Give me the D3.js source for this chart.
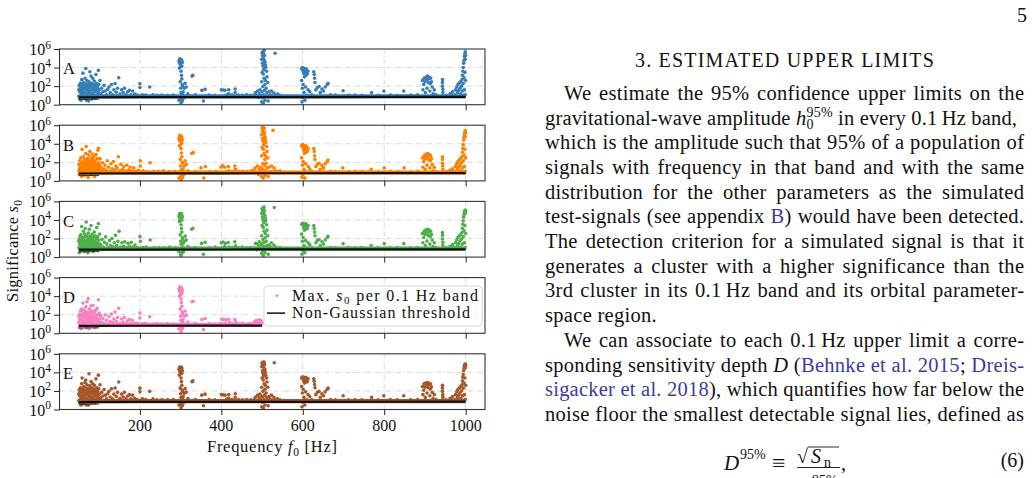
<!DOCTYPE html>
<html>
<head>
<meta charset="utf-8">
<script src="https://cdn.jsdelivr.net/npm/d3@7"></script>
<style>
  html, body { margin: 0; padding: 0; background: #fff; }
  svg { display: block; font-family: "Liberation Serif", "Times New Roman", serif; }
</style>
</head>
<body>
<svg id="page" width="1034" height="478"></svg>
<script>
// Five stacked panels : max significance s0 per 0.1 Hz band vs frequency (log y)
const panelNames = ["A", "B", "C", "D", "E"];
const colors = ["#377eb8", "#ff7f00", "#4daf4a", "#f781bf", "#a65628"];
const bandMax = [1000, 1000, 1000, 500, 1000];   // upper end of each search range [Hz]
const xTicks = [200, 400, 600, 800, 1000];
const yTicks = [1, 1e2, 1e4, 1e6];
const yTickExp = ["0", "2", "4", "6"];

// Non-Gaussian threshold (thick) + low-frequency branch (thin)
const thresholdFreq = [50, 200, 400, 500, 600, 800, 1000];
const thresholdS0   = [6.3, 6.5, 6.6, 6.65, 6.7, 6.8, 6.9];
const lowThreshFreq = [50, 100];
const lowThreshS0   = [3.7, 3.9];
// per-band maxima piling up just above the threshold
const floorS0 = 8;

// [frequency Hz, s0]
const ptsA = [
  [50,8],[50,40],[51,120],[52,4],[52,25],[53,60],[54,200],[54,10],[55,3],[55,30],[56,90],[57,15],[57,500],[58,7],[59,150],[59,35],
  [60,2500],[61,60],[62,18],[62,250],[63,5],[64,100],[65,700],[65,22],[66,8],[67,8000],[67,45],[68,180],[69,3],[69,55],[70,400],[70,14],
  [71,90],[72,6],[72,35],[73,150],[74,2.5],[74,60],[75,300],[75,20],[76,9],[77,3500],[77,120],[78,28],[79,70],[80,1200],[80,12],[81,200],
  [82,4],[82,50],[83,90],[84,700],[84,18],[85,6],[86,150],[86,40],[87,10],[88,350],[89,70],[90,25],[90,5],[91,110],[92,1800],[92,40],
  [93,12],[94,200],[95,50],[96,7],[96,80],[97,25],[98,5000],[99,150],[99,14],[100,40],[101,9],[102,400],
  [104,15],[106,60],[109,25],[112,120],[115,30],[118,12],[121,45],[124,80],[127,20],[130,150],[133,12],[136,40],[139,190],[142,22],
  [145,60],[148,800],[151,14],[155,40],[159,20],[162,60],[166,12],[170,25],[174,35],[178,12],[182,30],[187,14],[193,11],[200,180],
  [200,70],[206,12],[214,11],[224,80],[232,12],[242,10],[254,11],[268,10],[282,11],
  [296,3],[296,40000],[297,60000],[297,9000],[298,90000],[298,25000],[299,45000],[299,300],[300,80000],[300,30000],[300,12000],[300,60],
  [300,4],[301,55000],[301,4000],[301,20],[301,1.5],[302,70000],[302,1500],[302,9],[303,50000],[303,15000],[303,600],[304,35000],
  [304,150],[304,2.5],[305,100],[305,14],[306,25],[307,5],[309,60],[311,200],[314,80],[318,15],[328,1200],[330,1500],[336,12],[352,35],
  [356,2.5],[360,45],[370,11],[384,10],
  [400,40],[404,38],[409,35],[413,12],[418,40],[418,15],[426,12],[434,50],[434,20],[442,11],[452,10],[462,12],[472,10],
  [481,12],[484,20],[487,9],[489,30],[491,6],[493,15],[495,40],[497,10],[499,2],[499,300],[499,8e4],[500,4e5],[500,25],[500,3000],
  [501,2e5],[501,6],[501,3e4],[502,5e5],[502,90],[502,1.5e4],[503,1e5],[503,1.5],[503,2e3],[504,3e5],[504,12],[504,6e3],[505,6e4],
  [505,700],[505,7e5],[506,2e5],[506,35],[506,9e3],[507,4e4],[507,150],[507,3],[508,2e4],[508,400],[509,1e4],[509,8],[510,60],
  [511,4e3],[512,1e3],[512,20],[514,250],[515,2.5],[517,25],[520,12],[523,30],[526,8],[529,18],[533,10],[538,14],[544,10],[532,3.5e5],
  [597,8000],[597,400],[598,2],[599,1e4],[599,60],[600,5000],[600,6],[601,9000],[601,150],[602,2500],[603,7000],[603,20],[604,1000],
  [605,5000],[605,3],[606,3000],[607,8000],[607,80],[608,1500],[609,6000],[610,10],[611,2000],[613,4000],[613,40],[617,25],[622,12],
  [627,3500],[628,1800],[629,700],[630,250],[632,40],[636,70],[640,90],[643,20],[647,50],[651,30],[655,80],[660,150],[662,200],
  [668,12],[680,11],
  [699,32],[712,10],[728,11],[745,10],[769,20],[785,10],[799,30],[815,11],[832,10],[848,30],[865,11],[882,12],
  [894,400],[895,40],[897,150],[898,700],[900,300],[901,20],[902,900],[904,500],[905,60],[906,1200],[908,250],[909,600],[911,900],
  [912,30],[913,180],[914,700],[916,300],[918,80],[920,15],[923,40],[927,12],
  [943,500],[943,250],[943,100],[944,45],[944,20],[952,10],[962,16],[965,12],[968,25],
  [973,12],[975,40],[978,80],[980,20],[981,150],[983,35],[984,200],[986,60],[987,300],[988,15],[990,100],[991,500],[992,1500],
  [992,30],[993,4000],[994,1e4],[994,200],[995,3e4],[995,10],[996,6e4],[996,800],[997,1.5e5],[997,40],[998,3e5],[998,3000],
  [999,5e5],[999,8e4],[999,12],[1000,2e5],[1000,400]
];

const ptsB = [
  [50,12],[50,60],[51,5],[52,150],[52,20],[53,40],[54,8],[55,300],[55,15],[56,70],[57,3],[57,25],[58,2500],[59,110],[59,10],[60,45],
  [61,6],[61,400],[62,30],[63,80],[64,12],[64,200],[65,4],[66,55],[66,18],[67,900],[68,5000],[68,35],[69,120],[70,9],[70,60],[71,250],
  [72,20],[73,2.5],[73,90],[74,600],[75,14],[75,40],[76,150],[77,7],[77,1500],[78,70],[79,25],[80,300],[80,5],[81,45],[82,120],[83,15],
  [83,800],[84,35],[85,200],[86,10],[86,60],[87,400],[88,22],[89,3],[89,90],[90,150],[91,30],[92,12],[92,700],[93,50],[94,8],[95,250],
  [95,20],[96,60],[97,2000],[97,12],[98,3200],[98,35],[99,100],[100,18],[101,50],[102,250],
  [104,30],[106,12],[108,90],[111,20],[114,50],[117,14],[120,150],[123,30],[126,11],[129,70],[132,20],[135,120],[138,15],[141,40],
  [144,25],[147,400],[150,12],[153,60],[157,18],[160,35],[164,12],[168,50],[172,15],[176,30],[180,12],[185,25],[190,11],[196,14],
  [201,150],[201,40],[207,12],[215,10],[225,90],[234,11],[245,10],[258,12],[272,10],[286,11],
  [296,2],[296,30000],[297,50000],[297,6000],[298,80000],[298,20000],[299,60000],[299,200],[300,70000],[300,25000],[300,8000],[300,40],
  [300,3],[301,45000],[301,3000],[301,15],[301,1.3],[302,60000],[302,1000],[302,7],[303,40000],[303,12000],[303,400],[304,25000],
  [304,100],[304,2],[305,80],[305,12],[306,20],[307,4],[309,40],[311,150],[314,60],[318,12],[327,900],[331,1100],[337,10],[350,25],
  [357,2],[361,35],[372,10],[386,11],
  [399,30],[403,45],[408,30],[413,11],[417,35],[419,12],[427,10],[433,40],[435,18],[443,10],[453,11],[463,10],[473,12],
  [480,15],[483,25],[486,8],[489,40],[491,5],[493,20],[495,12],[497,30],[499,3],[499,500],[499,1e5],[500,5e5],[500,20],[500,4000],
  [501,2.5e5],[501,8],[501,4e4],[502,6e5],[502,70],[502,2e4],[503,1.5e5],[503,2],[503,2500],[504,3.5e5],[504,15],[504,8e3],[505,8e4],
  [505,900],[505,5e5],[506,1.5e5],[506,45],[506,1.2e4],[507,5e4],[507,200],[507,4],[508,3e4],[508,500],[509,1.5e4],[509,10],[510,80],
  [511,5e3],[512,1500],[512,25],[514,300],[515,3],[517,30],[520,10],[523,40],[526,9],[529,25],[533,12],[538,10],[544,12],[527,2.8e5],
  [597,6000],[597,300],[598,2.5],[599,8000],[599,50],[600,4000],[600,5],[601,7000],[601,120],[602,2000],[603,5500],[603,18],[604,900],
  [605,4000],[605,2],[606,2500],[607,6000],[607,70],[608,1200],[609,5000],[610,9],[611,1500],[613,3000],[613,35],[617,20],[622,10],
  [627,3000],[628,1500],[629,500],[630,200],[632,35],[636,60],[640,80],[643,18],[647,45],[651,25],[655,70],[660,120],[662,180],
  [668,11],[680,10],
  [698,25],[713,10],[729,11],[746,10],[768,18],[786,10],[800,25],[816,11],[833,10],[849,25],[866,10],[883,11],
  [894,300],[895,30],[897,120],[898,500],[900,250],[901,18],[902,700],[904,400],[905,50],[906,900],[908,200],[909,450],[911,700],
  [912,25],[913,150],[914,550],[916,250],[918,60],[920,12],[923,30],[927,10],
  [943,400],[943,200],[943,80],[944,40],[944,18],[953,10],[961,14],[965,11],[968,20],
  [973,10],[975,35],[978,70],[980,18],[981,120],[983,30],[984,180],[986,50],[987,250],[988,12],[990,90],[991,400],[992,1200],
  [992,25],[993,3000],[994,8000],[994,150],[995,2.5e4],[995,9],[996,5e4],[996,600],[997,1e5],[997,35],[998,2e5],[998,2500],
  [999,2.5e5],[999,6e4],[999,10],[1000,1.5e5],[1000,300]
];

const ptsC = [
  [50,10],[50,50],[51,3],[51,90],[52,25],[53,180],[53,8],[54,40],[55,15],[55,250],[56,5],[57,70],[57,2000],[58,20],[59,130],[60,8],
  [60,45],[61,600],[62,12],[62,90],[63,30],[64,300],[64,4],[65,55],[66,20],[66,1200],[67,150],[68,9],[68,6000],[69,40],[70,200],
  [70,14],[71,70],[72,3],[72,30],[73,400],[74,18],[74,100],[75,6],[76,50],[76,1000],[77,25],[78,180],[78,9],[79,60],[80,2500],
  [80,20],[81,120],[82,7],[82,40],[83,300],[84,15],[85,80],[85,4],[86,30],[87,150],[88,12],[88,500],[89,50],[90,20],[91,8],[91,200],
  [92,35],[93,90],[94,14],[94,1500],[95,40],[96,150],[97,6],[97,25],[98,4000],[99,70],[100,12],[101,300],[102,25],
  [104,20],[107,80],[110,12],[113,40],[116,150],[119,25],[122,10],[125,60],[128,18],[131,100],[134,14],[137,35],[140,220],[143,18],
  [146,50],[149,600],[152,12],[156,35],[160,15],[163,45],[167,11],[171,30],[175,14],[179,40],[183,12],[188,20],[194,10],[200,160],
  [201,50],[208,11],[216,12],[225,70],[235,10],[247,11],[260,10],[273,12],[287,10],
  [296,4],[296,25000],[297,40000],[297,7000],[298,50000],[298,15000],[299,35000],[299,250],[300,45000],[300,20000],[300,9000],[300,50],
  [300,2],[301,40000],[301,3000],[301,25],[301,1.5],[302,50000],[302,1200],[302,8],[303,30000],[303,10000],[303,500],[304,20000],
  [304,120],[304,3],[305,90],[305,12],[306,30],[307,4],[309,50],[311,180],[314,70],[318,14],[327,1000],[330,1300],[336,11],[351,30],
  [356,2],[360,40],[371,10],[385,12],
  [400,35],[404,42],[408,14],[410,30],[417,38],[419,12],[426,11],[433,45],[435,16],[443,10],[451,12],[462,10],[471,11],
  [481,10],[484,30],[487,6],[489,25],[491,12],[493,45],[495,8],[497,20],[499,2.5],[499,200],[499,5e4],[500,1.5e5],[500,30],[500,2500],
  [501,1e5],[501,5],[501,2e4],[502,2e5],[502,80],[502,1e4],[503,7e4],[503,1.5],[503,1500],[504,1.5e5],[504,14],[504,5e3],[505,4e4],
  [505,600],[505,2.5e5],[506,1e5],[506,40],[506,7e3],[507,3e4],[507,120],[507,3],[508,1.5e4],[508,350],[509,8e3],[509,9],[510,50],
  [511,3e3],[512,800],[512,18],[514,200],[515,2],[517,20],[520,14],[523,35],[526,8],[529,20],[533,12],[538,10],[544,11],[530,2.2e5],
  [597,3500],[597,300],[598,2],[599,4000],[599,50],[600,3000],[600,5],[601,4500],[601,130],[602,1500],[603,3500],[603,18],[604,800],
  [605,2500],[605,3],[606,2000],[607,4000],[607,60],[608,1000],[609,3000],[610,10],[611,1200],[613,2500],[613,35],[617,22],[622,11],
  [627,2500],[628,1200],[629,500],[630,200],[632,35],[636,60],[640,80],[643,18],[647,45],[651,25],[655,70],[660,130],[662,170],
  [668,11],[680,10],
  [699,28],[712,11],[728,10],[744,11],[768,18],[784,10],[800,28],[814,10],[832,11],[848,28],[864,10],[881,11],
  [894,350],[895,35],[897,130],[898,600],[900,280],[901,18],[902,800],[904,450],[905,55],[906,1000],[908,220],[909,500],[911,800],
  [912,25],[913,160],[914,600],[916,280],[918,70],[920,14],[923,35],[927,11],
  [943,450],[943,220],[943,90],[944,40],[944,18],[952,11],[962,15],[965,11],[968,22],
  [973,11],[975,38],[978,75],[980,18],[981,130],[983,30],[984,190],[986,55],[987,260],[988,12],[990,90],[991,450],[992,1300],
  [992,25],[993,3500],[994,8000],[994,160],[995,2e4],[995,9],[996,4e4],[996,700],[997,7e4],[997,35],[998,1e5],[998,2500],
  [999,1.2e5],[999,5e4],[999,10],[1000,9e4],[1000,350]
];

const ptsD = [
  [50,15],[50,70],[51,4],[52,120],[52,30],[53,8],[54,250],[54,45],[55,12],[56,90],[56,3],[57,400],[58,25],[59,60],[59,7],[60,1800],
  [60,20],[61,150],[62,10],[62,50],[63,300],[64,18],[65,6],[65,100],[66,35],[67,700],[67,12],[68,200],[69,4],[69,60],[70,2500],
  [70,25],[71,120],[72,9],[72,40],[73,5500],[73,180],[74,15],[75,70],[75,3],[76,400],[77,30],[78,10],[78,150],[79,50],[80,900],
  [80,20],[81,6],[82,80],[82,250],[83,35],[84,14],[85,120],[85,1000],[86,45],[87,8],[88,200],[89,25],[90,60],[90,4],[91,300],[92,15],
  [93,100],[94,40],[95,12],[95,500],[96,30],[97,9],[98,4000],[98,80],[99,20],[100,150],[101,12],[102,35],
  [104,80],[106,15],[109,40],[112,12],[115,100],[118,25],[121,10],[124,60],[127,18],[130,120],[133,14],[136,35],[139,200],[142,20],
  [145,50],[148,500],[151,12],[155,35],[159,15],[162,50],[166,11],[170,22],[174,30],[178,12],[182,25],[187,11],[193,12],[200,150],
  [200,45],[206,11],[214,12],[224,60],[232,10],[242,11],[254,10],[268,11],[282,10],
  [296,3],[296,50000],[297,70000],[297,10000],[298,100000],[298,30000],[299,60000],[299,400],[300,90000],[300,40000],[300,15000],
  [300,70],[300,5],[301,70000],[301,5000],[301,25],[301,1.5],[302,80000],[302,2000],[302,10],[303,60000],[303,20000],[303,800],
  [304,40000],[304,200],[304,3],[305,120],[305,15],[306,30],[307,6],[309,70],[311,250],[314,90],[318,16],[328,2500],[331,2800],
  [336,12],[352,30],[356,2.5],[360,40],[370,11],[384,10],
  [398,12],[401,35],[405,30],[409,12],[412,28],[418,32],[420,14],[427,11],[433,30],[436,15],[443,10],[452,12],[461,10],[470,11],
  [478,12],[482,18],[484,10],[486,25],[488,14],[490,20],[492,12],[494,28],[496,15],[498,22],[500,12]
];

const ptsE = [
  [50,9],[50,45],[51,130],[52,5],[52,28],[53,70],[54,220],[54,12],[55,3],[55,35],[56,100],[57,18],[57,600],[58,2500],[58,8],[59,160],
  [60,40],[61,70],[61,4],[62,20],[62,300],[63,6],[64,120],[65,800],[65,25],[66,10],[67,1500],[67,50],[68,200],[69,3],[69,60],[70,450],
  [70,15],[71,100],[72,7],[72,40],[73,170],[74,3],[74,65],[75,7000],[75,22],[76,10],[77,350],[77,130],[78,30],[79,80],[80,1000],
  [80,14],[81,220],[82,5],[82,55],[83,100],[84,600],[84,20],[85,7],[86,170],[86,45],[87,12],[88,400],[89,80],[90,28],[90,5],[91,120],
  [92,2000],[92,45],[93,14],[94,220],[95,55],[96,8],[96,90],[97,28],[98,5000],[99,170],[99,16],[100,45],[101,10],[102,450],
  [104,18],[106,70],[109,28],[112,140],[115,35],[118,14],[121,50],[124,90],[127,22],[130,170],[133,14],[136,45],[139,210],[142,25],
  [145,70],[148,900],[151,16],[155,45],[159,22],[162,70],[166,14],[170,28],[174,40],[178,14],[182,35],[187,16],[193,12],[200,200],
  [200,80],[206,14],[214,12],[224,90],[232,14],[242,11],[254,12],[268,11],[282,12],
  [296,3],[296,20000],[297,30000],[297,5000],[298,37000],[298,12000],[299,25000],[299,200],[300,35000],[300,15000],[300,7000],[300,50],
  [300,4],[301,30000],[301,2500],[301,20],[301,1.5],[302,35000],[302,1000],[302,9],[303,25000],[303,8000],[303,400],[304,15000],
  [304,120],[304,2.5],[305,90],[305,14],[306,25],[307,5],[309,55],[311,180],[314,75],[318,15],[328,1000],[330,1200],[336,12],[352,35],
  [356,2.5],[360,45],[370,12],[384,11],
  [400,40],[404,38],[409,35],[413,13],[418,40],[418,16],[426,12],[434,50],[434,20],[442,12],[452,11],[462,12],[472,11],
  [481,13],[484,22],[487,10],[489,35],[491,7],[493,18],[495,45],[497,11],[499,2],[499,250],[499,4e4],[500,1e5],[500,25],[500,2500],
  [501,8e4],[501,6],[501,1.5e4],[502,1.2e5],[502,90],[502,8e3],[503,6e4],[503,1.5],[503,1500],[504,1e5],[504,13],[504,4e3],[505,3e4],
  [505,600],[505,1.3e5],[506,7e4],[506,35],[506,6e3],[507,2e4],[507,150],[507,3],[508,1e4],[508,400],[509,5e3],[509,8],[510,60],
  [511,2.5e3],[512,900],[512,20],[514,250],[515,2.5],[517,25],[520,13],[523,35],[526,9],[529,20],[533,11],[538,14],[544,11],[530,1.1e5],
  [597,2500],[597,300],[598,2],[599,3200],[599,60],[600,2000],[600,6],[601,3000],[601,150],[602,1200],[603,2800],[603,20],[604,700],
  [605,2000],[605,3],[606,1500],[607,3000],[607,80],[608,900],[609,2500],[610,11],[611,1000],[613,2000],[613,40],[617,25],[622,12],
  [627,2000],[628,1100],[629,500],[630,220],[632,40],[636,70],[640,90],[643,20],[647,50],[651,30],[655,80],[660,150],[662,200],
  [668,12],[680,11],
  [699,30],[712,11],[728,12],[745,11],[769,20],[785,11],[799,30],[815,12],[832,11],[848,30],[865,12],[882,12],
  [894,300],[895,40],[897,120],[898,600],[900,250],[901,20],[902,700],[904,400],[905,60],[906,800],[908,220],[909,500],[911,650],
  [912,30],[913,160],[914,550],[916,260],[918,70],[920,15],[923,40],[927,12],
  [943,400],[943,200],[943,90],[944,40],[944,20],[952,11],[962,16],[965,12],[968,25],
  [973,12],[975,40],[978,80],[980,20],[981,140],[983,35],[984,190],[986,60],[987,280],[988,15],[990,100],[991,450],[992,1200],
  [992,30],[993,3000],[994,6000],[994,200],[995,1.5e4],[995,10],[996,3e4],[996,700],[997,5e4],[997,40],[998,7e4],[998,2500],
  [999,8e4],[999,3e4],[999,12],[1000,6e4],[1000,400]
];

const panelPoints = [ptsA, ptsB, ptsC, ptsD, ptsE];

// Right column of the page (each line = list of [text, kind])
const bodyLines = [
  [["We estimate the 95% confidence upper limits on the"]],
  [["gravitational-wave amplitude "], ["h", "i"], ["0", "sub"], ["95%", "supOver"], [" in every 0.1\u2009Hz band,"]],
  [["which is the amplitude such that 95% of a population of"]],
  [["signals with frequency in that band and with the same"]],
  [["distribution for the other parameters as the simulated"]],
  [["test-signals (see appendix "], ["B", "a"], [") would have been detected."]],
  [["The detection criterion for a simulated signal is that it"]],
  [["generates a cluster with a higher significance than the"]],
  [["3rd cluster in its 0.1\u2009Hz band and its orbital parameter-"]],
  [["space region."]],
  [["We can associate to each 0.1\u2009Hz upper limit a corre-"]],
  [["sponding sensitivity depth "], ["D", "i"], [" ("], ["Behnke et al. 2015", "a"], ["; "], ["Dreis-", "a"]],
  [["sigacker et al. 2018", "a"], ["), which quantifies how far below the"]],
  [["noise floor the smallest detectable signal lies, defined as"]]
];
const indented = [0, 10];
const justified = [true, true, true, true, true, true, true, true, true, false, true, true, true, true];

const svg = d3.select("#page");
const linkColor = "#3b3ba8";

// Stretch a text element to a target width (word gaps first, letters if too wide)
function fitWidth(sel, target, lettersOnly, baseLetter) {
  const node = sel.node();
  const txt = node.textContent;
  if (baseLetter) sel.attr("letter-spacing", baseLetter);
  const natural = node.getComputedTextLength() - (baseLetter || 0);
  const spaces = (txt.match(/ /g) || []).length;
  if (!lettersOnly && natural < target && spaces > 0) {
    sel.attr("word-spacing", (target - natural) / spaces);
  } else {
    sel.attr("letter-spacing", (baseLetter || 0) + (target - natural) / Math.max(1, txt.length - 1));
  }
}

// Rich text : segments with italic / sub / sup / link
function richText(parent, segs, attrs, small) {
  const t = parent.append("text");
  Object.entries(attrs).forEach(([k, v]) => t.attr(k, v));
  let off = 0;
  segs.forEach(([txt, kind]) => {
    const ts = t.append("tspan").text(txt);
    let target = 0;
    if (kind === "sub") target = small.sub;
    if (kind === "sup" || kind === "supOver") target = small.sup;
    if (target - off !== 0) ts.attr("dy", target - off);
    off = target;
    if (kind === "sub" || kind === "sup" || kind === "supOver") ts.attr("font-size", small.size);
    if (kind === "supOver") ts.attr("dx", -small.size * 0.5);
    if (kind === "i") ts.attr("font-style", "italic");
    if (kind === "a") ts.attr("fill", linkColor);
  });
  return t;
}

// ---------- Chart ----------
const plot = { left: 59.5, right: 485, top: 49, height: 55.7, step: 76.2 };
const x = d3.scaleLinear().domain([2.5, 1047.5]).range([plot.left, plot.right]);

panelPoints.forEach((pts, i) => {
  const top = plot.top + i * plot.step;
  const bottom = top + plot.height;
  const y = d3.scaleLog().domain([1, 1e6]).range([bottom, top]);
  const g = svg.append("g").attr("class", "panel");
  const line = d3.line().x(d => x(d[0])).y(d => y(d[1]));

  // grid (dash-dot)
  g.append("g").selectAll("line").data(xTicks).join("line")
    .attr("x1", d => x(d)).attr("x2", d => x(d))
    .attr("y1", top).attr("y2", bottom)
    .attr("stroke", "#d4d4d4").attr("stroke-width", 0.9).attr("stroke-dasharray", "5,2,1.2,2");
  g.append("g").selectAll("line").data(yTicks.slice(1, 3)).join("line")
    .attr("x1", plot.left).attr("x2", plot.right)
    .attr("y1", d => y(d)).attr("y2", d => y(d))
    .attr("stroke", "#d4d4d4").attr("stroke-width", 0.9).attr("stroke-dasharray", "5,2,1.2,2");

  // band of per-band maxima along the threshold
  g.append("path")
    .datum([[thresholdFreq[0], floorS0], [bandMax[i], floorS0]])
    .attr("d", line).attr("fill", "none")
    .attr("stroke", colors[i]).attr("stroke-width", 4.2);

  // points
  g.append("g").selectAll("circle").data(pts).join("circle")
    .attr("cx", d => x(d[0])).attr("cy", d => y(d[1]))
    .attr("r", 1.8).attr("fill", colors[i]);

  // thresholds
  const thr = thresholdFreq.map((f, j) => [f, thresholdS0[j]]).filter(d => d[0] <= bandMax[i]);
  g.append("path").datum(thr).attr("d", line)
    .attr("fill", "none").attr("stroke", "#111").attr("stroke-width", 2.2);
  g.append("path").datum(lowThreshFreq.map((f, j) => [f, lowThreshS0[j]])).attr("d", line)
    .attr("fill", "none").attr("stroke", "#222").attr("stroke-width", 0.9);

  // frame
  g.append("rect")
    .attr("x", plot.left).attr("y", top)
    .attr("width", plot.right - plot.left).attr("height", plot.height)
    .attr("fill", "none").attr("stroke", "#333").attr("stroke-width", 1.1);

  // axes (marks only, labels drawn below)
  const ya = g.append("g").attr("transform", `translate(${plot.left},0)`)
    .call(d3.axisLeft(y).tickValues(yTicks).tickFormat("").tickSize(5.5));
  ya.select(".domain").remove();
  ya.selectAll(".tick line").attr("stroke", "#222").attr("stroke-width", 1);

  const xa = g.append("g").attr("transform", `translate(0,${bottom})`)
    .call(d3.axisBottom(x).tickValues(xTicks).tickFormat("").tickSize(5.5));
  xa.select(".domain").remove();
  xa.selectAll(".tick line").attr("stroke", "#222").attr("stroke-width", 1);

  // y tick labels 10^k
  yTicks.forEach((v, j) => {
    const t = g.append("text")
      .attr("x", 51).attr("y", y(v) + 6)
      .attr("text-anchor", "end").attr("font-size", 16).attr("fill", "#111");
    t.append("tspan").text("10");
    t.append("tspan").attr("dy", -6.5).attr("font-size", 11.5).text(yTickExp[j]);
  });

  // x tick labels on last panel only
  if (i === panelPoints.length - 1) {
    g.selectAll(".xl").data(xTicks).join("text")
      .attr("x", d => x(d)).attr("y", bottom + 21)
      .attr("text-anchor", "middle").attr("font-size", 16).attr("fill", "#111")
      .text(d => d);
  }

  // panel letter
  g.append("text")
    .attr("x", 63).attr("y", top + 25.3)
    .attr("font-size", 16.5).attr("fill", "#111")
    .text(panelNames[i]);
});

// axis titles
const xl = richText(svg, [["Frequency "], ["f", "i"], ["0", "sub"], [" [Hz]"]],
  { x: 207, y: 452, "font-size": 16.5, fill: "#111" }, { size: 11.5, sub: 3.5, sup: -6 });
fitWidth(xl, 130, true);

const yl = richText(svg, [["Significance "], ["s", "i"], ["0", "sub"]],
  { transform: "translate(18,302) rotate(-90)", "font-size": 16.5, fill: "#111" }, { size: 11.5, sub: 3.5, sup: -6 });
fitWidth(yl, 102, true);

// legend (inside panel D)
{
  const top = plot.top + 3 * plot.step;
  const lg = svg.append("g");
  lg.append("rect")
    .attr("x", 264).attr("y", top + 8.5).attr("width", 218).attr("height", 40).attr("rx", 3)
    .attr("fill", "#fff").attr("fill-opacity", 0.85).attr("stroke", "#d4d4d4").attr("stroke-width", 0.9);
  lg.append("circle").attr("cx", 277).attr("cy", top + 18).attr("r", 1.4).attr("fill", colors[3]);
  lg.append("line").attr("x1", 267).attr("x2", 285).attr("y1", top + 35.5).attr("y2", top + 35.5)
    .attr("stroke", "#111").attr("stroke-width", 1.5);
  const l1 = richText(lg, [["Max. "], ["s", "i"], ["0", "sub"], [" per 0.1 Hz band"]],
    { x: 292, y: top + 23, "font-size": 16, fill: "#111" }, { size: 11, sub: 3.5, sup: -6 });
  fitWidth(l1, 186, true);
  const l2 = lg.append("text").attr("x", 292).attr("y", top + 40.5)
    .attr("font-size", 16).attr("fill", "#111").text("Non-Gaussian threshold");
  fitWidth(l2, 178, true);
}

// ---------- Page text (right column) ----------
svg.append("text").attr("x", 1027).attr("y", 21.5).attr("text-anchor", "end")
  .attr("font-size", 20).attr("fill", "#111").text("5");

const head = svg.append("text").attr("x", 635).attr("y", 66.5)
  .attr("font-size", 20).attr("fill", "#111").text("3.  ESTIMATED UPPER LIMITS");
fitWidth(head, 300, true);

bodyLines.forEach((segs, i) => {
  const x0 = indented.includes(i) ? 564 : 545;
  const t = richText(svg, segs, { x: x0, y: 99.8 + 24.7 * i, "font-size": 20.5, fill: "#111" },
    { size: 14, sub: 4.5, sup: -8 });
  if (justified[i]) fitWidth(t, 1024 - x0, false, 0.3);
  else t.attr("letter-spacing", 0.3);
});

// equation (6)
{
  const eq = svg.append("g").attr("fill", "#111");
  eq.append("text").attr("x", 724).attr("y", 470).attr("font-size", 21).attr("font-style", "italic").text("D");
  eq.append("text").attr("x", 740).attr("y", 459).attr("font-size", 14).text("95%");
  eq.append("text").attr("x", 772).attr("y", 471).attr("font-size", 24).text("\u2261");
  eq.append("text").attr("x", 797).attr("y", 463).attr("font-size", 20).text("\u221A");
  eq.append("line").attr("x1", 808).attr("x2", 839).attr("y1", 447).attr("y2", 447)
    .attr("stroke", "#111").attr("stroke-width", 0.9);
  eq.append("text").attr("x", 811).attr("y", 463).attr("font-size", 20).attr("font-style", "italic").text("S");
  eq.append("text").attr("x", 824).attr("y", 467).attr("font-size", 14).text("n");
  eq.append("line").attr("x1", 797).attr("x2", 840).attr("y1", 467.5).attr("y2", 467.5)
    .attr("stroke", "#111").attr("stroke-width", 0.9);
  eq.append("text").attr("x", 801).attr("y", 493).attr("font-size", 20).attr("font-style", "italic").text("h");
  eq.append("text").attr("x", 812).attr("y", 485).attr("font-size", 14).text("95%");
  eq.append("text").attr("x", 841).attr("y", 470).attr("font-size", 20).text(",");
  eq.append("text").attr("x", 1024).attr("y", 467).attr("text-anchor", "end").attr("font-size", 20).text("(6)");
}
</script>
</body>
</html>
